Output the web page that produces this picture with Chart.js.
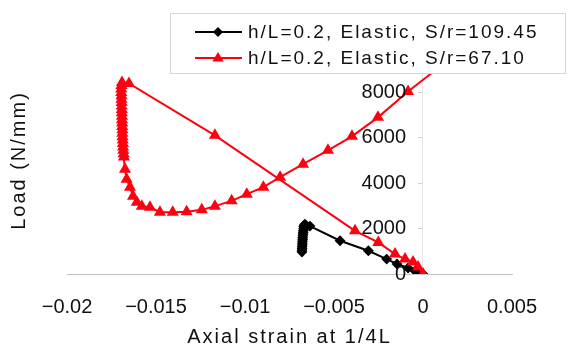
<!DOCTYPE html>
<html>
<head>
<meta charset="utf-8">
<script src="https://cdn.jsdelivr.net/npm/chart.js@4.4.1/dist/chart.umd.min.js"></script>
<style>
  html, body { margin: 0; padding: 0; background: #fff; }
  #wrap { width: 576px; height: 349px; }
</style>
</head>
<body>
<div id="wrap"><canvas id="myChart" width="576" height="349"></canvas></div>
<script>
// h/L=0.2, Elastic, S/r=109.45 (black)
var strainA = [0, -0.00017, -0.00045, -0.00084, -0.00146, -0.00204, -0.00307, -0.00466, -0.00635, -0.00663,
    -0.00668, -0.00670, -0.00671, -0.00672, -0.00673, -0.00674, -0.00675, -0.00676, -0.00676, -0.00677,
    -0.00678, -0.00678, -0.00679, -0.00679, -0.00680, -0.00680];
var loadA = [0, 44, 132, 264, 440, 659, 1024, 1464, 2110, 2198,
    2150, 2080, 2000, 1920, 1840, 1760, 1680, 1600, 1520, 1440,
    1360, 1280, 1200, 1120, 1050, 970];

// h/L=0.2, Elastic, S/r=67.10 (red)
var strainB = [0, -0.00028, -0.00056, -0.00101, -0.00157, -0.00251, -0.00382, -0.01169, -0.01652, -0.01691,
    -0.01694, -0.01695, -0.01695, -0.01694, -0.01694, -0.01693, -0.01693, -0.01692, -0.01692, -0.01691,
    -0.01691, -0.01690, -0.01690, -0.01689, -0.01689, -0.01688, -0.01687, -0.01686, -0.01685, -0.01684,
    -0.01682, -0.01680,
    -0.01674, -0.01665, -0.01646, -0.01629, -0.01608, -0.01580, -0.01534, -0.01478, -0.01406, -0.01328,
    -0.01243, -0.01169, -0.01075, -0.00990, -0.00897, -0.00803, -0.00674, -0.00534, -0.00399, -0.00253,
    -0.00084, 0.00067, 0.00197];
var loadB = [0, 308, 527, 659, 879, 1393, 1903, 6110, 8396, 8440,
    8300, 8150, 8000, 7850, 7700, 7550, 7400, 7250, 7100, 6950,
    6800, 6650, 6500, 6350, 6200, 6050, 5900, 5750, 5600, 5450,
    5300, 5150,
    4615, 4176, 3824, 3429, 3165, 2989, 2945, 2725, 2725, 2738,
    2826, 2989, 3222, 3516, 3824, 4264, 4835, 5451, 6066, 6901,
    8044, 8967, 9802];

var labelA = 'h/L=0.2, Elastic, S/r=109.45';
var labelB = 'h/L=0.2, Elastic, S/r=67.10';

var xTickValues = [-0.02, -0.015, -0.01, -0.005, 0, 0.005];
var yTickValues = [0, 2000, 4000, 6000, 8000];

var FONT = '"Liberation Sans", Arial, sans-serif';

function toPoints(xs, ys) {
    return xs.map(function (x, i) { return { x: x, y: ys[i] }; });
}

// wider letter spacing for the axis titles, none for tick labels;
// y labels sit a bit left of the centred axis
var spacingPlugin = {
    id: 'spacing',
    beforeDraw: function (chart) {
        chart.ctx.letterSpacing = '2px';
        var items = chart.scales.y.getLabelItems();
        if (!items._shifted) {
            items.forEach(function (it) { it.options.translation[0] -= 17; });
            items._shifted = true;
        }
    },
    afterDatasetsDraw: function (chart) { chart.ctx.letterSpacing = '0px'; }
};

function marker(ctx, style, x, y, r) {
    ctx.beginPath();
    if (style === 'triangle') {
        ctx.moveTo(x, y - r);
        ctx.lineTo(x + r * 0.95, y + r * 0.6);
        ctx.lineTo(x - r * 0.95, y + r * 0.6);
    } else {
        ctx.moveTo(x, y - r);
        ctx.lineTo(x + r, y);
        ctx.lineTo(x, y + r);
        ctx.lineTo(x - r, y);
    }
    ctx.closePath();
    ctx.fill();
}

// legend box drawn on top of the lines
var boxLegend = {
    id: 'boxLegend',
    afterDraw: function (chart) {
        var ctx = chart.ctx;
        ctx.save();
        ctx.fillStyle = '#fff';
        ctx.fillRect(170, 13, 395, 60);
        ctx.strokeStyle = '#d6d6d6';
        ctx.lineWidth = 1;
        ctx.strokeRect(170.5, 13.5, 395, 60);
        ctx.font = '19px ' + FONT;
        ctx.letterSpacing = '2px';
        ctx.textBaseline = 'middle';
        chart.data.datasets.forEach(function (ds, i) {
            var y = 32 + i * 26;
            ctx.strokeStyle = ds.borderColor;
            ctx.lineWidth = 2;
            ctx.beginPath();
            ctx.moveTo(195, y);
            ctx.lineTo(242, y);
            ctx.stroke();
            ctx.fillStyle = ds.pointBackgroundColor;
            marker(ctx, ds.pointStyle, 218, y, ds.pointRadius + 1);
            ctx.fillStyle = '#111';
            ctx.fillText(ds.label, 248, y + 1);
        });
        ctx.restore();
    }
};

var ctx = document.getElementById('myChart').getContext('2d');
var myChart = new Chart(ctx, {
    type: 'scatter',
    data: {
        datasets: [{
            label: labelA,
            data: toPoints(strainA, loadA),
            showLine: true,
            borderColor: '#000',
            backgroundColor: '#000',
            pointBackgroundColor: '#000',
            pointBorderColor: '#000',
            pointStyle: 'rectRot',
            pointRadius: 4,
            borderWidth: 2,
            order: 1,
            xAxisID: 'x',
            yAxisID: 'y'
        }, {
            label: labelB,
            data: toPoints(strainB, loadB),
            showLine: true,
            borderColor: 'rgb(255,0,16)',
            backgroundColor: 'rgb(255,0,16)',
            pointBackgroundColor: 'rgb(255,0,16)',
            pointBorderColor: 'rgb(255,0,16)',
            pointStyle: 'triangle',
            pointRadius: 5,
            borderWidth: 2,
            order: 0,
            xAxisID: 'x',
            yAxisID: 'y'
        }]
    },
    options: {
        responsive: false,
        animation: false,
        devicePixelRatio: 1,
        layout: { padding: { left: 0, right: 64, top: 47, bottom: 0 } },
        plugins: {
            legend: { display: false },
            tooltip: { enabled: false }
        },
        scales: {
            y: {
                type: 'linear',
                position: { x: 0 },
                min: 0,
                max: 10000,
                afterBuildTicks: function (s) { s.ticks = yTickValues.map(function (v) { return { value: v }; }); },
                grid: { drawOnChartArea: false, tickLength: 4, color: '#cfcfcf' },
                border: { display: true, color: '#e6e6e6' },
                ticks: { z: 1, padding: 0, color: '#111', font: { size: 20, family: FONT },
                    callback: function (v) { return String(v); } }
            },
            yTitle: {
                type: 'linear',
                position: 'left',
                display: true,
                grid: { display: false, drawTicks: false },
                border: { display: false },
                ticks: { display: false },
                title: { display: true, text: 'Load (N/mm)', color: '#111',
                    font: { size: 20, family: FONT }, padding: { top: 7, bottom: 36 } }
            },
            x: {
                type: 'linear',
                position: 'bottom',
                min: -0.02,
                max: 0.005,
                afterBuildTicks: function (s) { s.ticks = xTickValues.map(function (v) { return { value: v }; }); },
                grid: { display: true, drawOnChartArea: false, drawTicks: true, tickLength: 21, color: 'rgba(0,0,0,0)' },
                border: { display: true, color: '#c4c4c4', width: 1 },
                ticks: { z: 1, padding: 0, autoSkip: false, maxRotation: 0, color: '#111',
                    font: { size: 20, family: FONT },
                    callback: function (v) { return String(v).replace('-', '\u2212'); } },
                title: { display: true, text: 'Axial strain at 1/4L', color: '#111',
                    font: { size: 20, family: FONT }, padding: { top: 6, bottom: 0 } }
            }
        }
    },
    plugins: [spacingPlugin, boxLegend]
});
</script>
</body>
</html>
